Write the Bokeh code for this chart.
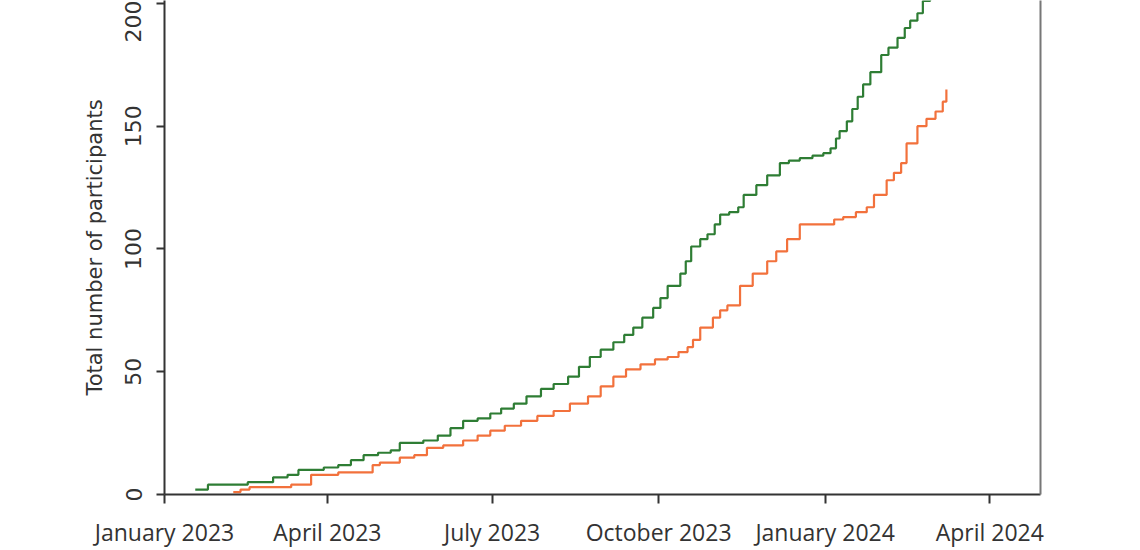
import pandas as pd
from bokeh.plotting import figure
from bokeh.models import FixedTicker, LinearAxis, Range1d, DatetimeTickFormatter
from bokeh.embed import file_html
from bokeh.resources import INLINE

# ---------------- data ----------------
green_dates = [
    "2023-01-18", "2023-01-25", "2023-02-16", "2023-03-02", "2023-03-10", "2023-03-16",
    "2023-03-30", "2023-04-07", "2023-04-14", "2023-04-21", "2023-04-29", "2023-05-06",
    "2023-05-11", "2023-05-24", "2023-06-01", "2023-06-08", "2023-06-15", "2023-06-23",
    "2023-06-30", "2023-07-06", "2023-07-13", "2023-07-20", "2023-07-28", "2023-08-04",
    "2023-08-12", "2023-08-18", "2023-08-24", "2023-08-30", "2023-09-06", "2023-09-12",
    "2023-09-17", "2023-09-22", "2023-09-28", "2023-10-02", "2023-10-06", "2023-10-13",
    "2023-10-16", "2023-10-19", "2023-10-24", "2023-10-28", "2023-11-01", "2023-11-04",
    "2023-11-09", "2023-11-14", "2023-11-17", "2023-11-24", "2023-11-30", "2023-12-07",
    "2023-12-12", "2023-12-18", "2023-12-25", "2023-12-31", "2024-01-04", "2024-01-07",
    "2024-01-09", "2024-01-13", "2024-01-16", "2024-01-19", "2024-01-22", "2024-01-26",
    "2024-02-01", "2024-02-05", "2024-02-10", "2024-02-14", "2024-02-17", "2024-02-21",
    "2024-02-24", "2024-02-28", "2024-03-03", "2024-03-08",
]
green_counts = [
    2, 4, 5, 7, 8, 10,
    11, 12, 14, 16, 17, 18,
    21, 22, 24, 27, 30, 31,
    33, 35, 37, 40, 43, 45,
    48, 52, 56, 59, 62, 65,
    68, 72, 76, 80, 85, 90,
    95, 101, 104, 106, 110, 114,
    115, 117, 122, 126, 130, 135,
    136, 137, 138, 139, 141, 145,
    148, 152, 157, 162, 167, 172,
    179, 182, 186, 190, 193, 196,
    201, 205, 209, 213,
]

orange_dates = [
    "2023-02-08", "2023-02-12", "2023-02-17", "2023-03-12", "2023-03-23", "2023-04-07",
    "2023-04-26", "2023-04-30", "2023-05-11", "2023-05-19", "2023-05-26", "2023-06-04",
    "2023-06-15", "2023-06-23", "2023-06-30", "2023-07-08", "2023-07-17", "2023-07-26",
    "2023-08-04", "2023-08-13", "2023-08-23", "2023-08-30", "2023-09-06", "2023-09-13",
    "2023-09-21", "2023-09-29", "2023-10-06", "2023-10-12", "2023-10-17", "2023-10-20",
    "2023-10-24", "2023-10-31", "2023-11-04", "2023-11-08", "2023-11-15", "2023-11-22",
    "2023-11-30", "2023-12-05", "2023-12-11", "2023-12-18", "2024-01-06", "2024-01-11",
    "2024-01-18", "2024-01-24", "2024-01-28", "2024-02-04", "2024-02-08", "2024-02-12",
    "2024-02-15", "2024-02-21", "2024-02-26", "2024-03-02", "2024-03-06", "2024-03-08",
]
orange_counts = [
    1, 2, 3, 4, 8, 9,
    12, 13, 15, 16, 19, 20,
    22, 24, 26, 28, 30, 32,
    34, 37, 40, 44, 48, 51,
    53, 55, 56, 58, 60, 63,
    68, 72, 75, 77, 85, 90,
    95, 99, 104, 110, 112, 113,
    115, 117, 122, 128, 131, 135,
    143, 150, 153, 156, 160, 165,
]

tick_dates = ["2023-01-01", "2023-04-01", "2023-07-01", "2023-10-01", "2024-01-01", "2024-04-01"]
tick_labels = ["January 2023", "April 2023", "July 2023", "October 2023", "January 2024", "April 2024"]
y_ticks = [0, 50, 100, 150, 200]
y_label = "Total number of participants"

x_start, x_end = "2023-01-01", "2024-04-29"
y_end = 201.2

# ---------------- figure ----------------
def ms(d):
    return pd.Timestamp(d).value / 1e6

p = figure(
    width=1124, height=550,
    x_axis_type="datetime",
    x_range=Range1d(ms(x_start), ms(x_end)),
    y_range=Range1d(0, y_end),
    output_backend="svg", toolbar_location=None,
    min_border_left=164, min_border_right=84, min_border_top=0, min_border_bottom=53,
)
p.outline_line_color = None
p.grid.visible = False
p.background_fill_color = "white"
p.border_fill_color = "white"

GREEN = "#2e7d34"
ORANGE = "#f2713c"
TEXT = "#333333"

p.step(x=pd.to_datetime(green_dates), y=green_counts, mode="after",
       line_color=GREEN, line_width=2.2)
p.step(x=pd.to_datetime(orange_dates), y=orange_counts, mode="after",
       line_color=ORANGE, line_width=2.2)

# x axis
xa = p.xaxis[0]
tick_ms = [ms(d) for d in tick_dates]
xa.ticker = FixedTicker(ticks=tick_ms)
fmt = "%B %Y"
xa.formatter = DatetimeTickFormatter(
    milliseconds=fmt, seconds=fmt, minsec=fmt, minutes=fmt, hourmin=fmt, hours=fmt,
    days=fmt, months=fmt, years=fmt, context=None)
xa.major_label_overrides = {t: lab for t, lab in zip(tick_ms, tick_labels)}
xa.minor_tick_line_color = None
xa.major_tick_out = 9
xa.major_tick_in = 0
xa.major_label_standoff = 12
xa.major_label_text_font = "Open Sans"
xa.major_label_text_font_size = "23px"
xa.major_label_text_color = TEXT
xa.axis_line_color = TEXT
xa.axis_line_width = 2
xa.major_tick_line_color = TEXT
xa.major_tick_line_width = 2

# y axis
ya = p.yaxis[0]
ya.ticker = FixedTicker(ticks=y_ticks)
ya.minor_tick_line_color = None
ya.major_tick_out = 8
ya.major_tick_in = 0
ya.major_label_orientation = "vertical"
ya.major_label_standoff = 15
ya.major_label_text_font = "DejaVu Sans"
ya.major_label_text_font_size = "22px"
ya.major_label_text_color = TEXT
ya.axis_line_color = TEXT
ya.axis_line_width = 2
ya.major_tick_line_color = TEXT
ya.major_tick_line_width = 2
ya.axis_label = y_label
ya.axis_label_text_font = "DejaVu Sans"
ya.axis_label_text_font_style = "normal"
ya.axis_label_text_font_size = "21px"
ya.axis_label_text_color = TEXT
ya.axis_label_standoff = 16

# right border line
ra = LinearAxis(ticker=FixedTicker(ticks=[]), axis_line_color="#777777", axis_line_width=2,
                major_tick_line_color=None, minor_tick_line_color=None,
                major_label_text_font_size="0px")
p.add_layout(ra, "right")

open("out.html", "w").write(file_html(p, INLINE))
